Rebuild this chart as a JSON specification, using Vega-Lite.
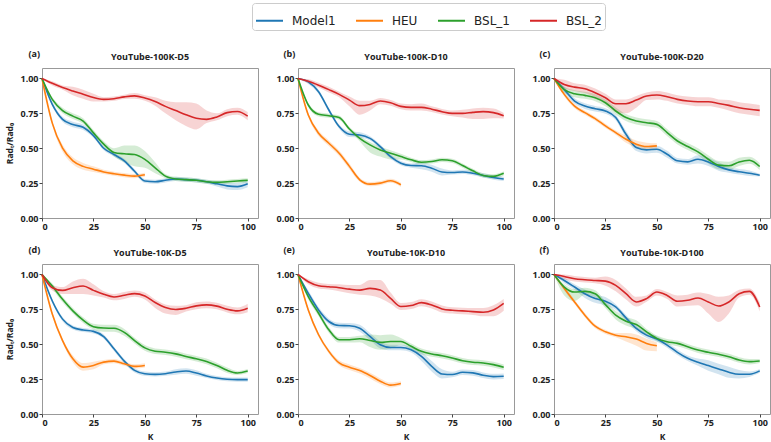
{
"$schema": "https://vega.github.io/schema/vega-lite/v6.json",
"padding": {"left": 5, "top": 2, "right": 0, "bottom": 2},
"datasets": {
"a": [
{"s":"Model1","k":0,"v":1,"lo":1,"hi":1},{"s":"Model1","k":5,"v":0.815,"lo":0.8,"hi":0.83},{"s":"Model1","k":10,"v":0.707,"lo":0.69,"hi":0.725},{"s":"Model1","k":15,"v":0.67,"lo":0.65,"hi":0.69},{"s":"Model1","k":20,"v":0.65,"lo":0.63,"hi":0.67},{"s":"Model1","k":25,"v":0.59,"lo":0.575,"hi":0.605},{"s":"Model1","k":30,"v":0.5,"lo":0.485,"hi":0.515},{"s":"Model1","k":35,"v":0.455,"lo":0.44,"hi":0.47},{"s":"Model1","k":40,"v":0.41,"lo":0.395,"hi":0.425},{"s":"Model1","k":45,"v":0.335,"lo":0.32,"hi":0.35},{"s":"Model1","k":50,"v":0.265,"lo":0.25,"hi":0.28},{"s":"Model1","k":55,"v":0.26,"lo":0.245,"hi":0.275},{"s":"Model1","k":60,"v":0.27,"lo":0.255,"hi":0.285},{"s":"Model1","k":65,"v":0.28,"lo":0.265,"hi":0.295},{"s":"Model1","k":70,"v":0.275,"lo":0.26,"hi":0.29},{"s":"Model1","k":75,"v":0.27,"lo":0.255,"hi":0.285},{"s":"Model1","k":80,"v":0.26,"lo":0.245,"hi":0.275},{"s":"Model1","k":85,"v":0.245,"lo":0.225,"hi":0.265},{"s":"Model1","k":90,"v":0.23,"lo":0.205,"hi":0.255},{"s":"Model1","k":95,"v":0.225,"lo":0.2,"hi":0.25},{"s":"Model1","k":100,"v":0.245,"lo":0.22,"hi":0.27},
{"s":"HEU","k":0,"v":1,"lo":1,"hi":1},{"s":"HEU","k":5,"v":0.68,"lo":0.665,"hi":0.695},{"s":"HEU","k":10,"v":0.5,"lo":0.475,"hi":0.525},{"s":"HEU","k":15,"v":0.41,"lo":0.385,"hi":0.435},{"s":"HEU","k":20,"v":0.37,"lo":0.345,"hi":0.395},{"s":"HEU","k":25,"v":0.35,"lo":0.33,"hi":0.37},{"s":"HEU","k":30,"v":0.33,"lo":0.315,"hi":0.345},{"s":"HEU","k":35,"v":0.317,"lo":0.302,"hi":0.332},{"s":"HEU","k":40,"v":0.307,"lo":0.292,"hi":0.322},{"s":"HEU","k":45,"v":0.3,"lo":0.285,"hi":0.315},{"s":"HEU","k":50,"v":0.31,"lo":0.295,"hi":0.325},
{"s":"BSL_1","k":0,"v":1,"lo":1,"hi":1},{"s":"BSL_1","k":5,"v":0.85,"lo":0.835,"hi":0.865},{"s":"BSL_1","k":10,"v":0.77,"lo":0.75,"hi":0.79},{"s":"BSL_1","k":15,"v":0.73,"lo":0.71,"hi":0.75},{"s":"BSL_1","k":20,"v":0.695,"lo":0.675,"hi":0.715},{"s":"BSL_1","k":25,"v":0.61,"lo":0.59,"hi":0.63},{"s":"BSL_1","k":30,"v":0.53,"lo":0.51,"hi":0.55},{"s":"BSL_1","k":35,"v":0.47,"lo":0.44,"hi":0.5},{"s":"BSL_1","k":40,"v":0.46,"lo":0.4,"hi":0.52},{"s":"BSL_1","k":45,"v":0.455,"lo":0.37,"hi":0.52},{"s":"BSL_1","k":50,"v":0.42,"lo":0.36,"hi":0.48},{"s":"BSL_1","k":55,"v":0.36,"lo":0.32,"hi":0.4},{"s":"BSL_1","k":60,"v":0.3,"lo":0.285,"hi":0.315},{"s":"BSL_1","k":65,"v":0.28,"lo":0.265,"hi":0.295},{"s":"BSL_1","k":70,"v":0.275,"lo":0.26,"hi":0.29},{"s":"BSL_1","k":75,"v":0.27,"lo":0.255,"hi":0.285},{"s":"BSL_1","k":80,"v":0.26,"lo":0.245,"hi":0.275},{"s":"BSL_1","k":85,"v":0.255,"lo":0.24,"hi":0.27},{"s":"BSL_1","k":90,"v":0.26,"lo":0.245,"hi":0.275},{"s":"BSL_1","k":95,"v":0.265,"lo":0.25,"hi":0.28},{"s":"BSL_1","k":100,"v":0.27,"lo":0.255,"hi":0.285},
{"s":"BSL_2","k":0,"v":1,"lo":1,"hi":1},{"s":"BSL_2","k":5,"v":0.965,"lo":0.95,"hi":0.98},{"s":"BSL_2","k":10,"v":0.935,"lo":0.92,"hi":0.95},{"s":"BSL_2","k":15,"v":0.91,"lo":0.88,"hi":0.94},{"s":"BSL_2","k":20,"v":0.887,"lo":0.855,"hi":0.92},{"s":"BSL_2","k":25,"v":0.863,"lo":0.835,"hi":0.89},{"s":"BSL_2","k":30,"v":0.85,"lo":0.835,"hi":0.865},{"s":"BSL_2","k":35,"v":0.855,"lo":0.84,"hi":0.87},{"s":"BSL_2","k":40,"v":0.868,"lo":0.853,"hi":0.883},{"s":"BSL_2","k":45,"v":0.875,"lo":0.855,"hi":0.895},{"s":"BSL_2","k":50,"v":0.86,"lo":0.84,"hi":0.88},{"s":"BSL_2","k":55,"v":0.835,"lo":0.805,"hi":0.865},{"s":"BSL_2","k":60,"v":0.8,"lo":0.75,"hi":0.84},{"s":"BSL_2","k":65,"v":0.77,"lo":0.7,"hi":0.83},{"s":"BSL_2","k":70,"v":0.74,"lo":0.66,"hi":0.83},{"s":"BSL_2","k":75,"v":0.715,"lo":0.635,"hi":0.82},{"s":"BSL_2","k":80,"v":0.707,"lo":0.68,"hi":0.77},{"s":"BSL_2","k":85,"v":0.724,"lo":0.7,"hi":0.75},{"s":"BSL_2","k":90,"v":0.755,"lo":0.73,"hi":0.78},{"s":"BSL_2","k":95,"v":0.763,"lo":0.74,"hi":0.79},{"s":"BSL_2","k":100,"v":0.73,"lo":0.7,"hi":0.76}
],
"b": [
{"s":"Model1","k":0,"v":1,"lo":1,"hi":1},{"s":"Model1","k":5,"v":0.976,"lo":0.96,"hi":0.99},{"s":"Model1","k":10,"v":0.905,"lo":0.89,"hi":0.92},{"s":"Model1","k":15,"v":0.774,"lo":0.759,"hi":0.789},{"s":"Model1","k":20,"v":0.655,"lo":0.64,"hi":0.67},{"s":"Model1","k":25,"v":0.6,"lo":0.58,"hi":0.62},{"s":"Model1","k":30,"v":0.595,"lo":0.575,"hi":0.615},{"s":"Model1","k":35,"v":0.571,"lo":0.556,"hi":0.586},{"s":"Model1","k":40,"v":0.512,"lo":0.497,"hi":0.527},{"s":"Model1","k":45,"v":0.44,"lo":0.425,"hi":0.455},{"s":"Model1","k":50,"v":0.393,"lo":0.378,"hi":0.408},{"s":"Model1","k":55,"v":0.376,"lo":0.361,"hi":0.391},{"s":"Model1","k":60,"v":0.374,"lo":0.35,"hi":0.398},{"s":"Model1","k":65,"v":0.357,"lo":0.332,"hi":0.382},{"s":"Model1","k":70,"v":0.33,"lo":0.305,"hi":0.355},{"s":"Model1","k":75,"v":0.326,"lo":0.311,"hi":0.341},{"s":"Model1","k":80,"v":0.33,"lo":0.315,"hi":0.345},{"s":"Model1","k":85,"v":0.321,"lo":0.306,"hi":0.336},{"s":"Model1","k":90,"v":0.305,"lo":0.29,"hi":0.32},{"s":"Model1","k":95,"v":0.29,"lo":0.275,"hi":0.305},{"s":"Model1","k":100,"v":0.28,"lo":0.265,"hi":0.295},
{"s":"HEU","k":0,"v":1,"lo":1,"hi":1},{"s":"HEU","k":5,"v":0.738,"lo":0.723,"hi":0.753},{"s":"HEU","k":10,"v":0.607,"lo":0.587,"hi":0.627},{"s":"HEU","k":15,"v":0.536,"lo":0.516,"hi":0.556},{"s":"HEU","k":20,"v":0.464,"lo":0.444,"hi":0.484},{"s":"HEU","k":25,"v":0.37,"lo":0.35,"hi":0.39},{"s":"HEU","k":30,"v":0.274,"lo":0.259,"hi":0.289},{"s":"HEU","k":35,"v":0.243,"lo":0.228,"hi":0.258},{"s":"HEU","k":40,"v":0.25,"lo":0.235,"hi":0.265},{"s":"HEU","k":45,"v":0.267,"lo":0.252,"hi":0.282},{"s":"HEU","k":50,"v":0.238,"lo":0.223,"hi":0.253},
{"s":"BSL_1","k":0,"v":1,"lo":1,"hi":1},{"s":"BSL_1","k":5,"v":0.81,"lo":0.795,"hi":0.825},{"s":"BSL_1","k":10,"v":0.743,"lo":0.728,"hi":0.758},{"s":"BSL_1","k":15,"v":0.733,"lo":0.718,"hi":0.748},{"s":"BSL_1","k":20,"v":0.72,"lo":0.705,"hi":0.735},{"s":"BSL_1","k":25,"v":0.638,"lo":0.623,"hi":0.653},{"s":"BSL_1","k":30,"v":0.571,"lo":0.55,"hi":0.59},{"s":"BSL_1","k":35,"v":0.524,"lo":0.47,"hi":0.545},{"s":"BSL_1","k":40,"v":0.488,"lo":0.44,"hi":0.51},{"s":"BSL_1","k":45,"v":0.464,"lo":0.42,"hi":0.485},{"s":"BSL_1","k":50,"v":0.44,"lo":0.42,"hi":0.46},{"s":"BSL_1","k":55,"v":0.417,"lo":0.402,"hi":0.432},{"s":"BSL_1","k":60,"v":0.4,"lo":0.385,"hi":0.415},{"s":"BSL_1","k":65,"v":0.405,"lo":0.39,"hi":0.42},{"s":"BSL_1","k":70,"v":0.417,"lo":0.402,"hi":0.432},{"s":"BSL_1","k":75,"v":0.41,"lo":0.395,"hi":0.425},{"s":"BSL_1","k":80,"v":0.376,"lo":0.361,"hi":0.391},{"s":"BSL_1","k":85,"v":0.338,"lo":0.323,"hi":0.353},{"s":"BSL_1","k":90,"v":0.305,"lo":0.29,"hi":0.32},{"s":"BSL_1","k":95,"v":0.298,"lo":0.283,"hi":0.313},{"s":"BSL_1","k":100,"v":0.32,"lo":0.305,"hi":0.335},
{"s":"BSL_2","k":0,"v":1,"lo":1,"hi":1},{"s":"BSL_2","k":5,"v":0.98,"lo":0.965,"hi":0.995},{"s":"BSL_2","k":10,"v":0.952,"lo":0.935,"hi":0.97},{"s":"BSL_2","k":15,"v":0.92,"lo":0.9,"hi":0.94},{"s":"BSL_2","k":20,"v":0.886,"lo":0.865,"hi":0.905},{"s":"BSL_2","k":25,"v":0.845,"lo":0.8,"hi":0.87},{"s":"BSL_2","k":30,"v":0.805,"lo":0.74,"hi":0.84},{"s":"BSL_2","k":35,"v":0.814,"lo":0.77,"hi":0.84},{"s":"BSL_2","k":40,"v":0.838,"lo":0.815,"hi":0.86},{"s":"BSL_2","k":45,"v":0.826,"lo":0.805,"hi":0.845},{"s":"BSL_2","k":50,"v":0.8,"lo":0.78,"hi":0.82},{"s":"BSL_2","k":55,"v":0.793,"lo":0.77,"hi":0.815},{"s":"BSL_2","k":60,"v":0.793,"lo":0.77,"hi":0.82},{"s":"BSL_2","k":65,"v":0.78,"lo":0.76,"hi":0.8},{"s":"BSL_2","k":70,"v":0.762,"lo":0.742,"hi":0.782},{"s":"BSL_2","k":75,"v":0.75,"lo":0.73,"hi":0.77},{"s":"BSL_2","k":80,"v":0.75,"lo":0.72,"hi":0.775},{"s":"BSL_2","k":85,"v":0.757,"lo":0.71,"hi":0.785},{"s":"BSL_2","k":90,"v":0.762,"lo":0.71,"hi":0.79},{"s":"BSL_2","k":95,"v":0.755,"lo":0.715,"hi":0.785},{"s":"BSL_2","k":100,"v":0.733,"lo":0.713,"hi":0.753}
],
"c": [
{"s":"Model1","k":0,"v":1,"lo":1,"hi":1},{"s":"Model1","k":5,"v":0.92,"lo":0.9,"hi":0.94},{"s":"Model1","k":10,"v":0.838,"lo":0.818,"hi":0.858},{"s":"Model1","k":15,"v":0.802,"lo":0.782,"hi":0.822},{"s":"Model1","k":20,"v":0.783,"lo":0.763,"hi":0.803},{"s":"Model1","k":25,"v":0.767,"lo":0.747,"hi":0.787},{"s":"Model1","k":30,"v":0.72,"lo":0.7,"hi":0.74},{"s":"Model1","k":35,"v":0.6,"lo":0.575,"hi":0.625},{"s":"Model1","k":40,"v":0.505,"lo":0.48,"hi":0.53},{"s":"Model1","k":45,"v":0.488,"lo":0.463,"hi":0.513},{"s":"Model1","k":50,"v":0.493,"lo":0.468,"hi":0.518},{"s":"Model1","k":55,"v":0.457,"lo":0.432,"hi":0.482},{"s":"Model1","k":60,"v":0.41,"lo":0.39,"hi":0.43},{"s":"Model1","k":65,"v":0.402,"lo":0.382,"hi":0.422},{"s":"Model1","k":70,"v":0.421,"lo":0.39,"hi":0.45},{"s":"Model1","k":75,"v":0.402,"lo":0.372,"hi":0.432},{"s":"Model1","k":80,"v":0.369,"lo":0.339,"hi":0.399},{"s":"Model1","k":85,"v":0.345,"lo":0.325,"hi":0.365},{"s":"Model1","k":90,"v":0.331,"lo":0.311,"hi":0.351},{"s":"Model1","k":95,"v":0.321,"lo":0.301,"hi":0.341},{"s":"Model1","k":100,"v":0.307,"lo":0.297,"hi":0.317},
{"s":"HEU","k":0,"v":1,"lo":1,"hi":1},{"s":"HEU","k":5,"v":0.886,"lo":0.871,"hi":0.901},{"s":"HEU","k":10,"v":0.802,"lo":0.787,"hi":0.817},{"s":"HEU","k":15,"v":0.755,"lo":0.74,"hi":0.77},{"s":"HEU","k":20,"v":0.712,"lo":0.697,"hi":0.727},{"s":"HEU","k":25,"v":0.66,"lo":0.645,"hi":0.675},{"s":"HEU","k":30,"v":0.612,"lo":0.597,"hi":0.627},{"s":"HEU","k":35,"v":0.564,"lo":0.54,"hi":0.59},{"s":"HEU","k":40,"v":0.529,"lo":0.505,"hi":0.555},{"s":"HEU","k":45,"v":0.512,"lo":0.49,"hi":0.54},{"s":"HEU","k":50,"v":0.517,"lo":0.5,"hi":0.535},
{"s":"BSL_1","k":0,"v":1,"lo":1,"hi":1},{"s":"BSL_1","k":5,"v":0.92,"lo":0.9,"hi":0.94},{"s":"BSL_1","k":10,"v":0.89,"lo":0.865,"hi":0.915},{"s":"BSL_1","k":15,"v":0.879,"lo":0.854,"hi":0.904},{"s":"BSL_1","k":20,"v":0.862,"lo":0.837,"hi":0.887},{"s":"BSL_1","k":25,"v":0.826,"lo":0.8,"hi":0.85},{"s":"BSL_1","k":30,"v":0.767,"lo":0.742,"hi":0.792},{"s":"BSL_1","k":35,"v":0.72,"lo":0.695,"hi":0.745},{"s":"BSL_1","k":40,"v":0.695,"lo":0.67,"hi":0.72},{"s":"BSL_1","k":45,"v":0.683,"lo":0.658,"hi":0.708},{"s":"BSL_1","k":50,"v":0.671,"lo":0.646,"hi":0.696},{"s":"BSL_1","k":55,"v":0.612,"lo":0.587,"hi":0.637},{"s":"BSL_1","k":60,"v":0.552,"lo":0.527,"hi":0.577},{"s":"BSL_1","k":65,"v":0.512,"lo":0.487,"hi":0.537},{"s":"BSL_1","k":70,"v":0.474,"lo":0.449,"hi":0.499},{"s":"BSL_1","k":75,"v":0.421,"lo":0.39,"hi":0.45},{"s":"BSL_1","k":80,"v":0.379,"lo":0.349,"hi":0.409},{"s":"BSL_1","k":85,"v":0.374,"lo":0.344,"hi":0.404},{"s":"BSL_1","k":90,"v":0.402,"lo":0.372,"hi":0.432},{"s":"BSL_1","k":95,"v":0.414,"lo":0.389,"hi":0.439},{"s":"BSL_1","k":100,"v":0.369,"lo":0.344,"hi":0.394},
{"s":"BSL_2","k":0,"v":1,"lo":1,"hi":1},{"s":"BSL_2","k":5,"v":0.957,"lo":0.93,"hi":0.99},{"s":"BSL_2","k":10,"v":0.938,"lo":0.91,"hi":0.965},{"s":"BSL_2","k":15,"v":0.926,"lo":0.895,"hi":0.955},{"s":"BSL_2","k":20,"v":0.898,"lo":0.868,"hi":0.928},{"s":"BSL_2","k":25,"v":0.862,"lo":0.83,"hi":0.89},{"s":"BSL_2","k":30,"v":0.819,"lo":0.76,"hi":0.85},{"s":"BSL_2","k":35,"v":0.819,"lo":0.75,"hi":0.85},{"s":"BSL_2","k":40,"v":0.845,"lo":0.79,"hi":0.875},{"s":"BSL_2","k":45,"v":0.874,"lo":0.845,"hi":0.9},{"s":"BSL_2","k":50,"v":0.881,"lo":0.85,"hi":0.91},{"s":"BSL_2","k":55,"v":0.869,"lo":0.84,"hi":0.9},{"s":"BSL_2","k":60,"v":0.85,"lo":0.82,"hi":0.88},{"s":"BSL_2","k":65,"v":0.838,"lo":0.81,"hi":0.87},{"s":"BSL_2","k":70,"v":0.833,"lo":0.8,"hi":0.865},{"s":"BSL_2","k":75,"v":0.833,"lo":0.8,"hi":0.865},{"s":"BSL_2","k":80,"v":0.821,"lo":0.79,"hi":0.85},{"s":"BSL_2","k":85,"v":0.807,"lo":0.77,"hi":0.845},{"s":"BSL_2","k":90,"v":0.79,"lo":0.75,"hi":0.83},{"s":"BSL_2","k":95,"v":0.779,"lo":0.74,"hi":0.82},{"s":"BSL_2","k":100,"v":0.771,"lo":0.73,"hi":0.81}
],
"d": [
{"s":"Model1","k":0,"v":1,"lo":1,"hi":1},{"s":"Model1","k":5,"v":0.81,"lo":0.795,"hi":0.825},{"s":"Model1","k":10,"v":0.68,"lo":0.665,"hi":0.695},{"s":"Model1","k":15,"v":0.62,"lo":0.605,"hi":0.635},{"s":"Model1","k":20,"v":0.602,"lo":0.587,"hi":0.617},{"s":"Model1","k":25,"v":0.592,"lo":0.577,"hi":0.607},{"s":"Model1","k":30,"v":0.555,"lo":0.54,"hi":0.57},{"s":"Model1","k":35,"v":0.467,"lo":0.452,"hi":0.482},{"s":"Model1","k":40,"v":0.379,"lo":0.364,"hi":0.394},{"s":"Model1","k":45,"v":0.313,"lo":0.298,"hi":0.328},{"s":"Model1","k":50,"v":0.289,"lo":0.274,"hi":0.304},{"s":"Model1","k":55,"v":0.284,"lo":0.269,"hi":0.299},{"s":"Model1","k":60,"v":0.289,"lo":0.274,"hi":0.304},{"s":"Model1","k":65,"v":0.301,"lo":0.281,"hi":0.321},{"s":"Model1","k":70,"v":0.308,"lo":0.288,"hi":0.328},{"s":"Model1","k":75,"v":0.294,"lo":0.274,"hi":0.314},{"s":"Model1","k":80,"v":0.273,"lo":0.258,"hi":0.288},{"s":"Model1","k":85,"v":0.258,"lo":0.243,"hi":0.273},{"s":"Model1","k":90,"v":0.249,"lo":0.234,"hi":0.264},{"s":"Model1","k":95,"v":0.246,"lo":0.231,"hi":0.261},{"s":"Model1","k":100,"v":0.246,"lo":0.231,"hi":0.261},
{"s":"HEU","k":0,"v":1,"lo":1,"hi":1},{"s":"HEU","k":5,"v":0.716,"lo":0.7,"hi":0.73},{"s":"HEU","k":10,"v":0.526,"lo":0.51,"hi":0.54},{"s":"HEU","k":15,"v":0.396,"lo":0.37,"hi":0.42},{"s":"HEU","k":20,"v":0.336,"lo":0.31,"hi":0.365},{"s":"HEU","k":25,"v":0.348,"lo":0.32,"hi":0.375},{"s":"HEU","k":30,"v":0.372,"lo":0.357,"hi":0.387},{"s":"HEU","k":35,"v":0.379,"lo":0.364,"hi":0.394},{"s":"HEU","k":40,"v":0.36,"lo":0.345,"hi":0.375},{"s":"HEU","k":45,"v":0.341,"lo":0.326,"hi":0.356},{"s":"HEU","k":50,"v":0.348,"lo":0.333,"hi":0.363},
{"s":"BSL_1","k":0,"v":1,"lo":1,"hi":1},{"s":"BSL_1","k":5,"v":0.917,"lo":0.9,"hi":0.935},{"s":"BSL_1","k":10,"v":0.822,"lo":0.8,"hi":0.84},{"s":"BSL_1","k":15,"v":0.739,"lo":0.72,"hi":0.76},{"s":"BSL_1","k":20,"v":0.673,"lo":0.653,"hi":0.693},{"s":"BSL_1","k":25,"v":0.626,"lo":0.606,"hi":0.646},{"s":"BSL_1","k":30,"v":0.616,"lo":0.59,"hi":0.64},{"s":"BSL_1","k":35,"v":0.614,"lo":0.59,"hi":0.64},{"s":"BSL_1","k":40,"v":0.585,"lo":0.56,"hi":0.61},{"s":"BSL_1","k":45,"v":0.526,"lo":0.506,"hi":0.546},{"s":"BSL_1","k":50,"v":0.474,"lo":0.454,"hi":0.494},{"s":"BSL_1","k":55,"v":0.45,"lo":0.43,"hi":0.47},{"s":"BSL_1","k":60,"v":0.443,"lo":0.423,"hi":0.463},{"s":"BSL_1","k":65,"v":0.431,"lo":0.411,"hi":0.451},{"s":"BSL_1","k":70,"v":0.412,"lo":0.392,"hi":0.432},{"s":"BSL_1","k":75,"v":0.396,"lo":0.376,"hi":0.416},{"s":"BSL_1","k":80,"v":0.377,"lo":0.357,"hi":0.397},{"s":"BSL_1","k":85,"v":0.348,"lo":0.328,"hi":0.368},{"s":"BSL_1","k":90,"v":0.313,"lo":0.293,"hi":0.333},{"s":"BSL_1","k":95,"v":0.294,"lo":0.279,"hi":0.309},{"s":"BSL_1","k":100,"v":0.308,"lo":0.293,"hi":0.323},
{"s":"BSL_2","k":0,"v":1,"lo":1,"hi":1},{"s":"BSL_2","k":5,"v":0.905,"lo":0.885,"hi":0.925},{"s":"BSL_2","k":10,"v":0.886,"lo":0.86,"hi":0.91},{"s":"BSL_2","k":15,"v":0.905,"lo":0.86,"hi":0.95},{"s":"BSL_2","k":20,"v":0.917,"lo":0.86,"hi":0.97},{"s":"BSL_2","k":25,"v":0.886,"lo":0.85,"hi":0.93},{"s":"BSL_2","k":30,"v":0.858,"lo":0.835,"hi":0.88},{"s":"BSL_2","k":35,"v":0.839,"lo":0.815,"hi":0.86},{"s":"BSL_2","k":40,"v":0.851,"lo":0.825,"hi":0.875},{"s":"BSL_2","k":45,"v":0.863,"lo":0.84,"hi":0.885},{"s":"BSL_2","k":50,"v":0.846,"lo":0.82,"hi":0.87},{"s":"BSL_2","k":55,"v":0.799,"lo":0.76,"hi":0.82},{"s":"BSL_2","k":60,"v":0.763,"lo":0.72,"hi":0.785},{"s":"BSL_2","k":65,"v":0.749,"lo":0.71,"hi":0.775},{"s":"BSL_2","k":70,"v":0.758,"lo":0.735,"hi":0.78},{"s":"BSL_2","k":75,"v":0.775,"lo":0.75,"hi":0.8},{"s":"BSL_2","k":80,"v":0.782,"lo":0.757,"hi":0.807},{"s":"BSL_2","k":85,"v":0.773,"lo":0.75,"hi":0.797},{"s":"BSL_2","k":90,"v":0.751,"lo":0.728,"hi":0.775},{"s":"BSL_2","k":95,"v":0.739,"lo":0.715,"hi":0.763},{"s":"BSL_2","k":100,"v":0.758,"lo":0.73,"hi":0.79}
],
"e": [
{"s":"Model1","k":0,"v":1,"lo":1,"hi":1},{"s":"Model1","k":5,"v":0.865,"lo":0.845,"hi":0.885},{"s":"Model1","k":10,"v":0.746,"lo":0.726,"hi":0.766},{"s":"Model1","k":15,"v":0.663,"lo":0.643,"hi":0.683},{"s":"Model1","k":20,"v":0.634,"lo":0.614,"hi":0.654},{"s":"Model1","k":25,"v":0.632,"lo":0.612,"hi":0.652},{"s":"Model1","k":30,"v":0.615,"lo":0.59,"hi":0.64},{"s":"Model1","k":35,"v":0.556,"lo":0.53,"hi":0.58},{"s":"Model1","k":40,"v":0.496,"lo":0.47,"hi":0.52},{"s":"Model1","k":45,"v":0.477,"lo":0.457,"hi":0.497},{"s":"Model1","k":50,"v":0.477,"lo":0.457,"hi":0.497},{"s":"Model1","k":55,"v":0.46,"lo":0.44,"hi":0.48},{"s":"Model1","k":60,"v":0.413,"lo":0.38,"hi":0.445},{"s":"Model1","k":65,"v":0.342,"lo":0.305,"hi":0.38},{"s":"Model1","k":70,"v":0.287,"lo":0.255,"hi":0.32},{"s":"Model1","k":75,"v":0.283,"lo":0.263,"hi":0.303},{"s":"Model1","k":80,"v":0.299,"lo":0.279,"hi":0.319},{"s":"Model1","k":85,"v":0.295,"lo":0.275,"hi":0.315},{"s":"Model1","k":90,"v":0.278,"lo":0.258,"hi":0.298},{"s":"Model1","k":95,"v":0.268,"lo":0.248,"hi":0.288},{"s":"Model1","k":100,"v":0.271,"lo":0.251,"hi":0.291},
{"s":"HEU","k":0,"v":1,"lo":1,"hi":1},{"s":"HEU","k":5,"v":0.746,"lo":0.73,"hi":0.76},{"s":"HEU","k":10,"v":0.568,"lo":0.553,"hi":0.583},{"s":"HEU","k":15,"v":0.449,"lo":0.434,"hi":0.464},{"s":"HEU","k":20,"v":0.366,"lo":0.35,"hi":0.385},{"s":"HEU","k":25,"v":0.335,"lo":0.315,"hi":0.355},{"s":"HEU","k":30,"v":0.311,"lo":0.29,"hi":0.33},{"s":"HEU","k":35,"v":0.276,"lo":0.255,"hi":0.295},{"s":"HEU","k":40,"v":0.235,"lo":0.215,"hi":0.255},{"s":"HEU","k":45,"v":0.207,"lo":0.19,"hi":0.225},{"s":"HEU","k":50,"v":0.219,"lo":0.204,"hi":0.234},
{"s":"BSL_1","k":0,"v":1,"lo":1,"hi":1},{"s":"BSL_1","k":5,"v":0.841,"lo":0.821,"hi":0.861},{"s":"BSL_1","k":10,"v":0.722,"lo":0.702,"hi":0.742},{"s":"BSL_1","k":15,"v":0.603,"lo":0.583,"hi":0.623},{"s":"BSL_1","k":20,"v":0.532,"lo":0.512,"hi":0.552},{"s":"BSL_1","k":25,"v":0.532,"lo":0.512,"hi":0.552},{"s":"BSL_1","k":30,"v":0.539,"lo":0.515,"hi":0.56},{"s":"BSL_1","k":35,"v":0.527,"lo":0.48,"hi":0.57},{"s":"BSL_1","k":40,"v":0.513,"lo":0.46,"hi":0.565},{"s":"BSL_1","k":45,"v":0.52,"lo":0.47,"hi":0.57},{"s":"BSL_1","k":50,"v":0.52,"lo":0.495,"hi":0.545},{"s":"BSL_1","k":55,"v":0.485,"lo":0.465,"hi":0.505},{"s":"BSL_1","k":60,"v":0.449,"lo":0.429,"hi":0.469},{"s":"BSL_1","k":65,"v":0.43,"lo":0.41,"hi":0.45},{"s":"BSL_1","k":70,"v":0.418,"lo":0.398,"hi":0.438},{"s":"BSL_1","k":75,"v":0.401,"lo":0.381,"hi":0.421},{"s":"BSL_1","k":80,"v":0.382,"lo":0.362,"hi":0.402},{"s":"BSL_1","k":85,"v":0.371,"lo":0.351,"hi":0.391},{"s":"BSL_1","k":90,"v":0.366,"lo":0.346,"hi":0.386},{"s":"BSL_1","k":95,"v":0.354,"lo":0.334,"hi":0.374},{"s":"BSL_1","k":100,"v":0.335,"lo":0.315,"hi":0.355},
{"s":"BSL_2","k":0,"v":1,"lo":1,"hi":1},{"s":"BSL_2","k":5,"v":0.948,"lo":0.93,"hi":0.965},{"s":"BSL_2","k":10,"v":0.919,"lo":0.9,"hi":0.94},{"s":"BSL_2","k":15,"v":0.912,"lo":0.892,"hi":0.932},{"s":"BSL_2","k":20,"v":0.905,"lo":0.88,"hi":0.93},{"s":"BSL_2","k":25,"v":0.895,"lo":0.865,"hi":0.925},{"s":"BSL_2","k":30,"v":0.888,"lo":0.855,"hi":0.925},{"s":"BSL_2","k":35,"v":0.9,"lo":0.85,"hi":0.96},{"s":"BSL_2","k":40,"v":0.888,"lo":0.83,"hi":0.96},{"s":"BSL_2","k":45,"v":0.829,"lo":0.79,"hi":0.87},{"s":"BSL_2","k":50,"v":0.77,"lo":0.745,"hi":0.795},{"s":"BSL_2","k":55,"v":0.777,"lo":0.752,"hi":0.802},{"s":"BSL_2","k":60,"v":0.798,"lo":0.773,"hi":0.823},{"s":"BSL_2","k":65,"v":0.781,"lo":0.756,"hi":0.806},{"s":"BSL_2","k":70,"v":0.753,"lo":0.728,"hi":0.778},{"s":"BSL_2","k":75,"v":0.743,"lo":0.72,"hi":0.765},{"s":"BSL_2","k":80,"v":0.739,"lo":0.715,"hi":0.762},{"s":"BSL_2","k":85,"v":0.734,"lo":0.71,"hi":0.76},{"s":"BSL_2","k":90,"v":0.729,"lo":0.7,"hi":0.76},{"s":"BSL_2","k":95,"v":0.746,"lo":0.7,"hi":0.78},{"s":"BSL_2","k":100,"v":0.793,"lo":0.74,"hi":0.825}
],
"f": [
{"s":"Model1","k":0,"v":1,"lo":1,"hi":1},{"s":"Model1","k":5,"v":0.957,"lo":0.937,"hi":0.977},{"s":"Model1","k":10,"v":0.91,"lo":0.89,"hi":0.93},{"s":"Model1","k":15,"v":0.862,"lo":0.832,"hi":0.892},{"s":"Model1","k":20,"v":0.827,"lo":0.797,"hi":0.857},{"s":"Model1","k":25,"v":0.808,"lo":0.778,"hi":0.838},{"s":"Model1","k":30,"v":0.767,"lo":0.747,"hi":0.787},{"s":"Model1","k":35,"v":0.689,"lo":0.669,"hi":0.709},{"s":"Model1","k":40,"v":0.613,"lo":0.593,"hi":0.633},{"s":"Model1","k":45,"v":0.565,"lo":0.545,"hi":0.585},{"s":"Model1","k":50,"v":0.537,"lo":0.517,"hi":0.557},{"s":"Model1","k":55,"v":0.494,"lo":0.474,"hi":0.514},{"s":"Model1","k":60,"v":0.442,"lo":0.422,"hi":0.462},{"s":"Model1","k":65,"v":0.399,"lo":0.379,"hi":0.419},{"s":"Model1","k":70,"v":0.371,"lo":0.345,"hi":0.397},{"s":"Model1","k":75,"v":0.347,"lo":0.31,"hi":0.385},{"s":"Model1","k":80,"v":0.323,"lo":0.285,"hi":0.36},{"s":"Model1","k":85,"v":0.299,"lo":0.26,"hi":0.338},{"s":"Model1","k":90,"v":0.285,"lo":0.255,"hi":0.315},{"s":"Model1","k":95,"v":0.285,"lo":0.265,"hi":0.305},{"s":"Model1","k":100,"v":0.309,"lo":0.295,"hi":0.323},
{"s":"HEU","k":0,"v":1,"lo":1,"hi":1},{"s":"HEU","k":5,"v":0.9,"lo":0.885,"hi":0.915},{"s":"HEU","k":10,"v":0.803,"lo":0.788,"hi":0.818},{"s":"HEU","k":15,"v":0.708,"lo":0.693,"hi":0.723},{"s":"HEU","k":20,"v":0.629,"lo":0.614,"hi":0.644},{"s":"HEU","k":25,"v":0.589,"lo":0.574,"hi":0.604},{"s":"HEU","k":30,"v":0.565,"lo":0.55,"hi":0.58},{"s":"HEU","k":35,"v":0.553,"lo":0.52,"hi":0.58},{"s":"HEU","k":40,"v":0.537,"lo":0.49,"hi":0.57},{"s":"HEU","k":45,"v":0.506,"lo":0.455,"hi":0.54},{"s":"HEU","k":50,"v":0.489,"lo":0.45,"hi":0.515},
{"s":"BSL_1","k":0,"v":1,"lo":1,"hi":1},{"s":"BSL_1","k":5,"v":0.91,"lo":0.85,"hi":0.93},{"s":"BSL_1","k":10,"v":0.874,"lo":0.81,"hi":0.895},{"s":"BSL_1","k":15,"v":0.879,"lo":0.855,"hi":0.905},{"s":"BSL_1","k":20,"v":0.862,"lo":0.837,"hi":0.887},{"s":"BSL_1","k":25,"v":0.784,"lo":0.759,"hi":0.809},{"s":"BSL_1","k":30,"v":0.708,"lo":0.678,"hi":0.738},{"s":"BSL_1","k":35,"v":0.665,"lo":0.635,"hi":0.695},{"s":"BSL_1","k":40,"v":0.641,"lo":0.611,"hi":0.671},{"s":"BSL_1","k":45,"v":0.589,"lo":0.569,"hi":0.609},{"s":"BSL_1","k":50,"v":0.542,"lo":0.522,"hi":0.562},{"s":"BSL_1","k":55,"v":0.518,"lo":0.498,"hi":0.538},{"s":"BSL_1","k":60,"v":0.506,"lo":0.486,"hi":0.526},{"s":"BSL_1","k":65,"v":0.482,"lo":0.462,"hi":0.502},{"s":"BSL_1","k":70,"v":0.458,"lo":0.438,"hi":0.478},{"s":"BSL_1","k":75,"v":0.442,"lo":0.422,"hi":0.462},{"s":"BSL_1","k":80,"v":0.428,"lo":0.408,"hi":0.448},{"s":"BSL_1","k":85,"v":0.411,"lo":0.391,"hi":0.431},{"s":"BSL_1","k":90,"v":0.387,"lo":0.367,"hi":0.407},{"s":"BSL_1","k":95,"v":0.375,"lo":0.355,"hi":0.395},{"s":"BSL_1","k":100,"v":0.38,"lo":0.365,"hi":0.395},
{"s":"BSL_2","k":0,"v":1,"lo":1,"hi":1},{"s":"BSL_2","k":5,"v":0.986,"lo":0.966,"hi":1.0},{"s":"BSL_2","k":10,"v":0.969,"lo":0.949,"hi":0.989},{"s":"BSL_2","k":15,"v":0.962,"lo":0.942,"hi":0.982},{"s":"BSL_2","k":20,"v":0.957,"lo":0.937,"hi":0.977},{"s":"BSL_2","k":25,"v":0.952,"lo":0.92,"hi":0.985},{"s":"BSL_2","k":30,"v":0.922,"lo":0.88,"hi":0.96},{"s":"BSL_2","k":35,"v":0.862,"lo":0.82,"hi":0.9},{"s":"BSL_2","k":40,"v":0.803,"lo":0.77,"hi":0.84},{"s":"BSL_2","k":45,"v":0.827,"lo":0.805,"hi":0.85},{"s":"BSL_2","k":50,"v":0.874,"lo":0.85,"hi":0.895},{"s":"BSL_2","k":55,"v":0.85,"lo":0.825,"hi":0.875},{"s":"BSL_2","k":60,"v":0.808,"lo":0.77,"hi":0.85},{"s":"BSL_2","k":65,"v":0.815,"lo":0.775,"hi":0.855},{"s":"BSL_2","k":70,"v":0.831,"lo":0.78,"hi":0.87},{"s":"BSL_2","k":75,"v":0.803,"lo":0.72,"hi":0.86},{"s":"BSL_2","k":80,"v":0.774,"lo":0.66,"hi":0.84},{"s":"BSL_2","k":85,"v":0.803,"lo":0.72,"hi":0.85},{"s":"BSL_2","k":90,"v":0.862,"lo":0.835,"hi":0.89},{"s":"BSL_2","k":95,"v":0.879,"lo":0.855,"hi":0.9},{"s":"BSL_2","k":100,"v":0.767,"lo":0.735,"hi":0.8}
]
},
"spacing": 13,
"vconcat": [
{"spacing": 16, "hconcat": [
{"title": {"text": "(a)", "anchor": "start", "frame": "bounds", "dx": 23, "dy": 12}, "vconcat": [
{"width": 216, "height": 150, "data": {"name": "a"}, "title": "YouTube-100K-D5",
 "layer": [
  {"mark": {"type": "area", "interpolate": "monotone", "fillOpacity": 0.2},
   "encoding": {"x": {"field": "k", "type": "quantitative", "scale": {"domain": [0, 105], "nice": false}, "axis": {"title": null, "values": [0, 25, 50, 75, 100]}},
     "y": {"field": "lo", "type": "quantitative", "scale": {"domain": [0, 1.075], "nice": false}, "axis": {"title": "Radₜ/Rad₀", "values": [0, 0.25, 0.5, 0.75, 1], "format": ".2f"}},
     "y2": {"field": "hi"},
     "fill": {"field": "s", "type": "nominal", "scale": {"domain": ["BSL_1", "BSL_2", "HEU", "Model1"], "range": ["#2ca02c", "#d62728", "#ff7f0e", "#1f77b4"]}, "legend": null}}},
  {"mark": {"type": "line", "interpolate": "monotone", "strokeWidth": 1.6},
   "encoding": {"x": {"field": "k", "type": "quantitative", "axis": {"title": null, "values": [0, 25, 50, 75, 100]}},
     "y": {"field": "v", "type": "quantitative", "axis": {"title": "Radₜ/Rad₀", "values": [0, 0.25, 0.5, 0.75, 1], "format": ".2f"}},
     "color": {"field": "s", "type": "nominal", "scale": {"domain": ["Model1", "HEU", "BSL_1", "BSL_2"], "range": ["#1f77b4", "#ff7f0e", "#2ca02c", "#d62728"]}, "legend": {"orient": "none", "legendX": 210, "legendY": -65, "direction": "horizontal", "title": null}}}}
 ]}]},
{"title": {"text": "(b)", "anchor": "start", "frame": "bounds", "dx": 8, "dy": 12}, "vconcat": [
{"width": 216, "height": 150, "data": {"name": "b"}, "title": "YouTube-100K-D10",
 "layer": [
  {"mark": {"type": "area", "interpolate": "monotone", "fillOpacity": 0.2},
   "encoding": {"x": {"field": "k", "type": "quantitative", "scale": {"domain": [0, 105], "nice": false}, "axis": {"title": null, "values": [0, 25, 50, 75, 100]}},
     "y": {"field": "lo", "type": "quantitative", "scale": {"domain": [0, 1.075], "nice": false}, "axis": {"title": null, "values": [0, 0.25, 0.5, 0.75, 1], "format": ".2f"}},
     "y2": {"field": "hi"},
     "fill": {"field": "s", "type": "nominal", "scale": {"domain": ["BSL_1", "BSL_2", "HEU", "Model1"], "range": ["#2ca02c", "#d62728", "#ff7f0e", "#1f77b4"]}, "legend": null}}},
  {"mark": {"type": "line", "interpolate": "monotone", "strokeWidth": 1.6},
   "encoding": {"x": {"field": "k", "type": "quantitative", "axis": {"title": null, "values": [0, 25, 50, 75, 100]}},
     "y": {"field": "v", "type": "quantitative", "axis": {"title": null, "values": [0, 0.25, 0.5, 0.75, 1], "format": ".2f"}},
     "color": {"field": "s", "type": "nominal", "scale": {"domain": ["Model1", "HEU", "BSL_1", "BSL_2"], "range": ["#1f77b4", "#ff7f0e", "#2ca02c", "#d62728"]}, "legend": {"orient": "none", "legendX": 210, "legendY": -65, "direction": "horizontal", "title": null}}}}
 ]}]},
{"title": {"text": "(c)", "anchor": "start", "frame": "bounds", "dx": 8, "dy": 12}, "vconcat": [
{"width": 216, "height": 150, "data": {"name": "c"}, "title": "YouTube-100K-D20",
 "layer": [
  {"mark": {"type": "area", "interpolate": "monotone", "fillOpacity": 0.2},
   "encoding": {"x": {"field": "k", "type": "quantitative", "scale": {"domain": [0, 105], "nice": false}, "axis": {"title": null, "values": [0, 25, 50, 75, 100]}},
     "y": {"field": "lo", "type": "quantitative", "scale": {"domain": [0, 1.075], "nice": false}, "axis": {"title": null, "values": [0, 0.25, 0.5, 0.75, 1], "format": ".2f"}},
     "y2": {"field": "hi"},
     "fill": {"field": "s", "type": "nominal", "scale": {"domain": ["BSL_1", "BSL_2", "HEU", "Model1"], "range": ["#2ca02c", "#d62728", "#ff7f0e", "#1f77b4"]}, "legend": null}}},
  {"mark": {"type": "line", "interpolate": "monotone", "strokeWidth": 1.6},
   "encoding": {"x": {"field": "k", "type": "quantitative", "axis": {"title": null, "values": [0, 25, 50, 75, 100]}},
     "y": {"field": "v", "type": "quantitative", "axis": {"title": null, "values": [0, 0.25, 0.5, 0.75, 1], "format": ".2f"}},
     "color": {"field": "s", "type": "nominal", "scale": {"domain": ["Model1", "HEU", "BSL_1", "BSL_2"], "range": ["#1f77b4", "#ff7f0e", "#2ca02c", "#d62728"]}, "legend": {"orient": "none", "legendX": 210, "legendY": -65, "direction": "horizontal", "title": null}}}}
 ]}]}
]},
{"spacing": 16, "hconcat": [
{"title": {"text": "(d)", "anchor": "start", "frame": "bounds", "dx": 23, "dy": 12}, "vconcat": [
{"width": 216, "height": 150, "data": {"name": "d"}, "title": "YouTube-10K-D5",
 "layer": [
  {"mark": {"type": "area", "interpolate": "monotone", "fillOpacity": 0.2},
   "encoding": {"x": {"field": "k", "type": "quantitative", "scale": {"domain": [0, 105], "nice": false}, "axis": {"title": "K", "values": [0, 25, 50, 75, 100]}},
     "y": {"field": "lo", "type": "quantitative", "scale": {"domain": [0, 1.075], "nice": false}, "axis": {"title": "Radₜ/Rad₀", "values": [0, 0.25, 0.5, 0.75, 1], "format": ".2f"}},
     "y2": {"field": "hi"},
     "fill": {"field": "s", "type": "nominal", "scale": {"domain": ["BSL_1", "BSL_2", "HEU", "Model1"], "range": ["#2ca02c", "#d62728", "#ff7f0e", "#1f77b4"]}, "legend": null}}},
  {"mark": {"type": "line", "interpolate": "monotone", "strokeWidth": 1.6},
   "encoding": {"x": {"field": "k", "type": "quantitative", "axis": {"title": "K", "values": [0, 25, 50, 75, 100]}},
     "y": {"field": "v", "type": "quantitative", "axis": {"title": "Radₜ/Rad₀", "values": [0, 0.25, 0.5, 0.75, 1], "format": ".2f"}},
     "color": {"field": "s", "type": "nominal", "scale": {"domain": ["Model1", "HEU", "BSL_1", "BSL_2"], "range": ["#1f77b4", "#ff7f0e", "#2ca02c", "#d62728"]}, "legend": {"orient": "none", "legendX": 210, "legendY": -65, "direction": "horizontal", "title": null}}}}
 ]}]},
{"title": {"text": "(e)", "anchor": "start", "frame": "bounds", "dx": 8, "dy": 12}, "vconcat": [
{"width": 216, "height": 150, "data": {"name": "e"}, "title": "YouTube-10K-D10",
 "layer": [
  {"mark": {"type": "area", "interpolate": "monotone", "fillOpacity": 0.2},
   "encoding": {"x": {"field": "k", "type": "quantitative", "scale": {"domain": [0, 105], "nice": false}, "axis": {"title": "K", "values": [0, 25, 50, 75, 100]}},
     "y": {"field": "lo", "type": "quantitative", "scale": {"domain": [0, 1.075], "nice": false}, "axis": {"title": null, "values": [0, 0.25, 0.5, 0.75, 1], "format": ".2f"}},
     "y2": {"field": "hi"},
     "fill": {"field": "s", "type": "nominal", "scale": {"domain": ["BSL_1", "BSL_2", "HEU", "Model1"], "range": ["#2ca02c", "#d62728", "#ff7f0e", "#1f77b4"]}, "legend": null}}},
  {"mark": {"type": "line", "interpolate": "monotone", "strokeWidth": 1.6},
   "encoding": {"x": {"field": "k", "type": "quantitative", "axis": {"title": "K", "values": [0, 25, 50, 75, 100]}},
     "y": {"field": "v", "type": "quantitative", "axis": {"title": null, "values": [0, 0.25, 0.5, 0.75, 1], "format": ".2f"}},
     "color": {"field": "s", "type": "nominal", "scale": {"domain": ["Model1", "HEU", "BSL_1", "BSL_2"], "range": ["#1f77b4", "#ff7f0e", "#2ca02c", "#d62728"]}, "legend": {"orient": "none", "legendX": 210, "legendY": -65, "direction": "horizontal", "title": null}}}}
 ]}]},
{"title": {"text": "(f)", "anchor": "start", "frame": "bounds", "dx": 8, "dy": 12}, "vconcat": [
{"width": 216, "height": 150, "data": {"name": "f"}, "title": "YouTube-10K-D100",
 "layer": [
  {"mark": {"type": "area", "interpolate": "monotone", "fillOpacity": 0.2},
   "encoding": {"x": {"field": "k", "type": "quantitative", "scale": {"domain": [0, 105], "nice": false}, "axis": {"title": "K", "values": [0, 25, 50, 75, 100]}},
     "y": {"field": "lo", "type": "quantitative", "scale": {"domain": [0, 1.075], "nice": false}, "axis": {"title": null, "values": [0, 0.25, 0.5, 0.75, 1], "format": ".2f"}},
     "y2": {"field": "hi"},
     "fill": {"field": "s", "type": "nominal", "scale": {"domain": ["BSL_1", "BSL_2", "HEU", "Model1"], "range": ["#2ca02c", "#d62728", "#ff7f0e", "#1f77b4"]}, "legend": null}}},
  {"mark": {"type": "line", "interpolate": "monotone", "strokeWidth": 1.6},
   "encoding": {"x": {"field": "k", "type": "quantitative", "axis": {"title": "K", "values": [0, 25, 50, 75, 100]}},
     "y": {"field": "v", "type": "quantitative", "axis": {"title": null, "values": [0, 0.25, 0.5, 0.75, 1], "format": ".2f"}},
     "color": {"field": "s", "type": "nominal", "scale": {"domain": ["Model1", "HEU", "BSL_1", "BSL_2"], "range": ["#1f77b4", "#ff7f0e", "#2ca02c", "#d62728"]}, "legend": {"orient": "none", "legendX": 210, "legendY": -65, "direction": "horizontal", "title": null}}}}
 ]}]}
]}
],
"config": {
 "font": "Open Sans",
 "view": {"stroke": "#999999", "strokeWidth": 1},
 "axis": {"grid": false, "domain": false, "tickColor": "#444444", "tickSize": 3, "labelPadding": 1, "labelFontSize": 9, "labelFontWeight": "bold", "labelColor": "#222222", "titleFontSize": 8.5, "titleFontWeight": "bold", "titleColor": "#222222", "titlePadding": 5},
 "title": {"fontSize": 9, "fontWeight": "bold", "color": "#222222", "offset": 6},
 "legend": {"symbolType": "M-1,0H1", "symbolSize": 729, "symbolStrokeWidth": 2, "labelFont": "DejaVu Sans", "labelFontSize": 12, "labelColor": "#222222", "columnPadding": 16, "labelOffset": 8, "strokeColor": "#cccccc", "cornerRadius": 3, "padding": 3, "fillColor": "#ffffff"}
}
}
